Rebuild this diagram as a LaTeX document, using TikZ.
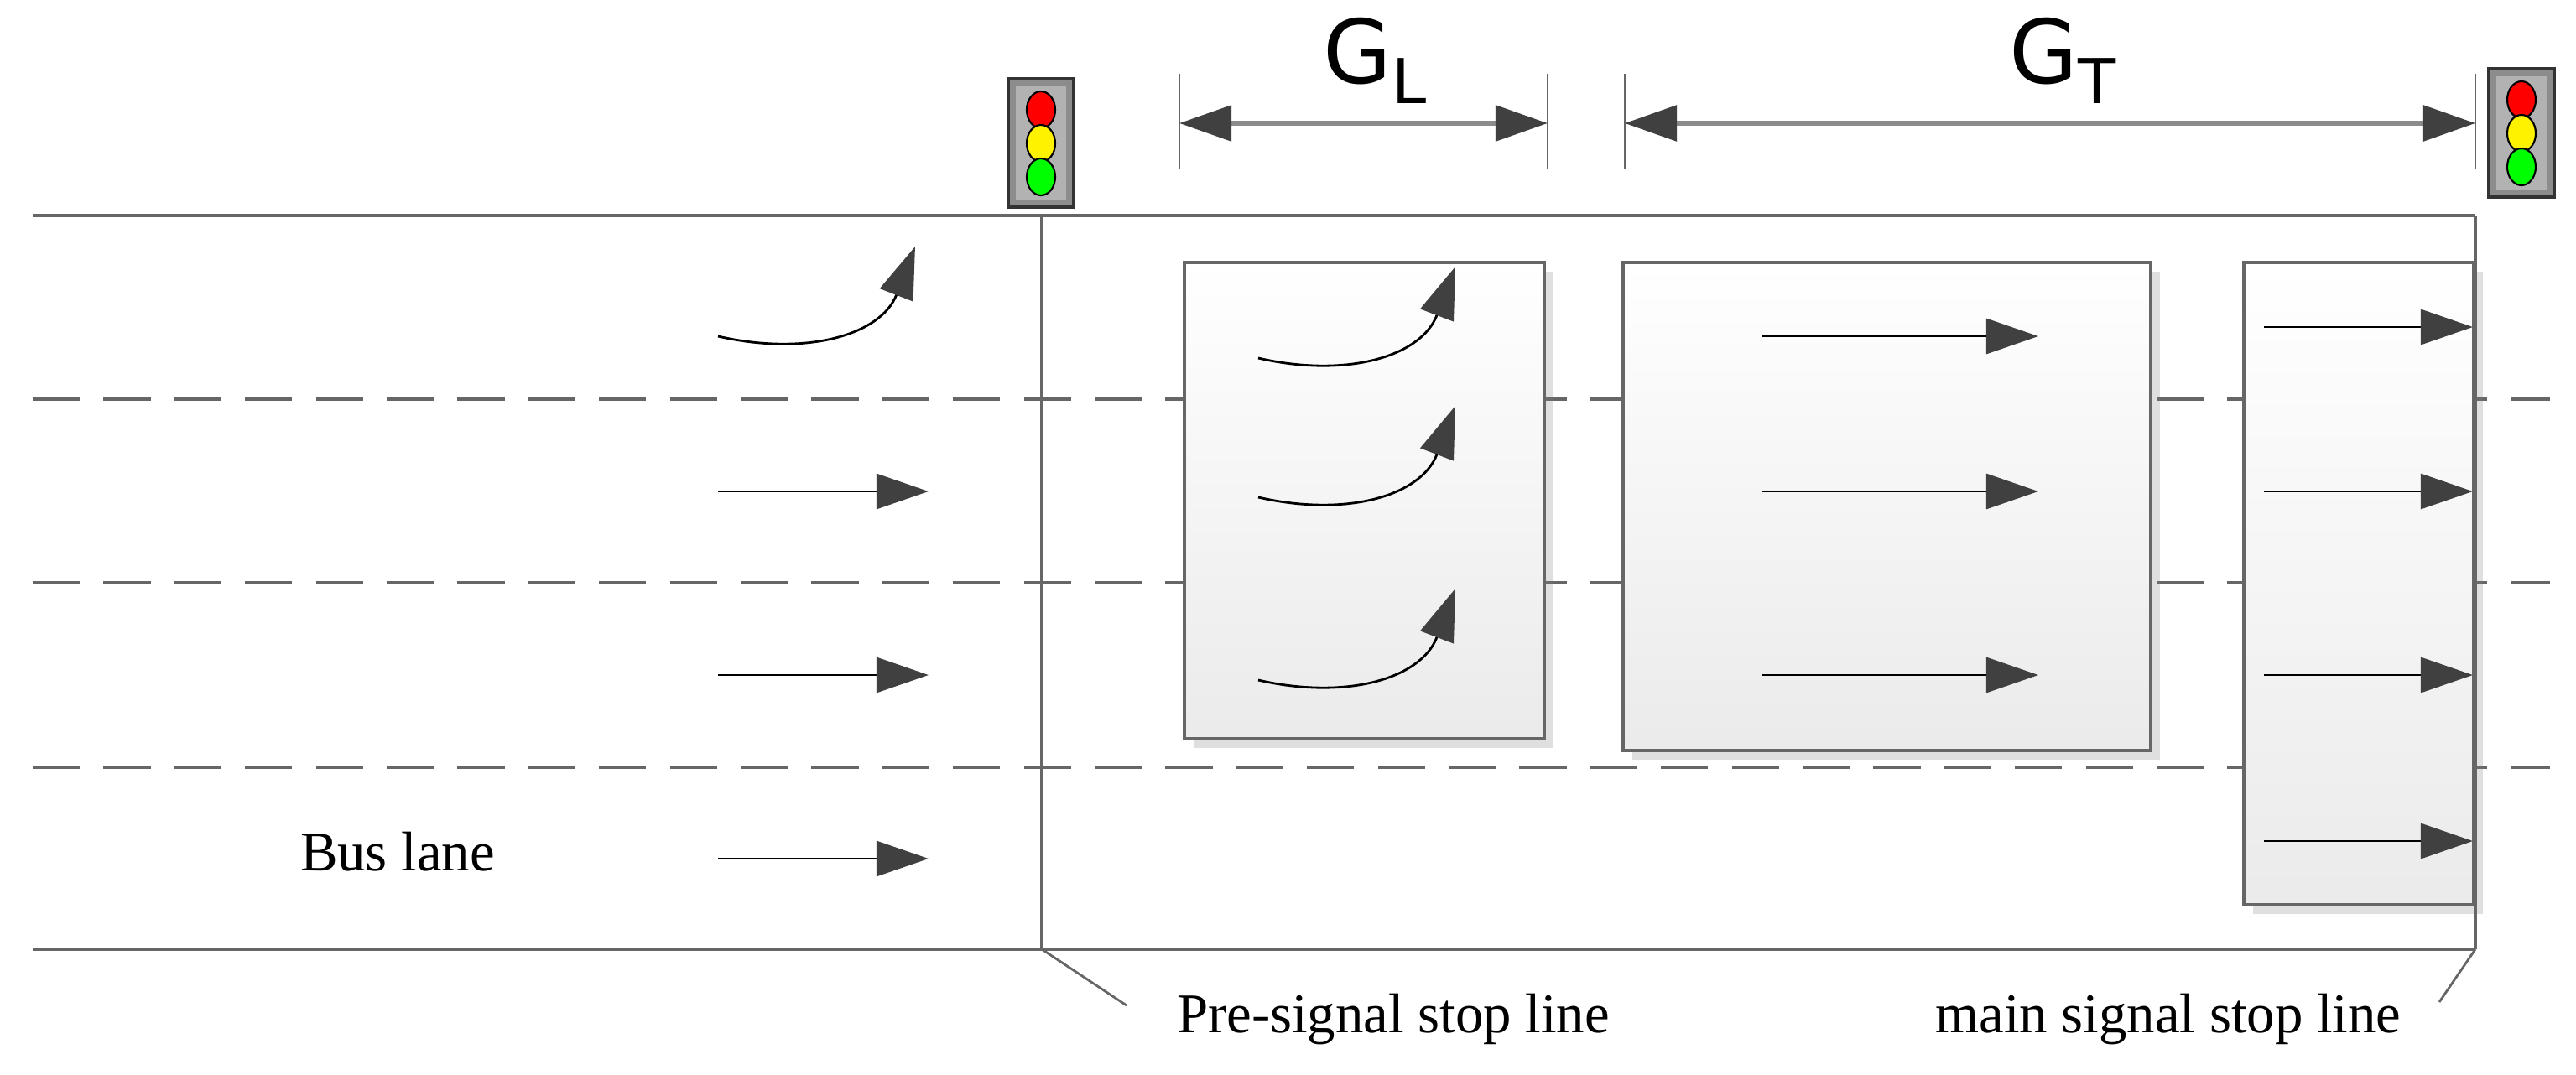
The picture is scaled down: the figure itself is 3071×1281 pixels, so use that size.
\documentclass[tikz,border=0pt]{standalone}
\usepackage{fontspec}
\setmainfont{Liberation Serif}
\newfontfamily\gfont{DejaVu Sans}
\usetikzlibrary{arrows.meta,shadows}
\begin{document}
\begin{tikzpicture}[x=0.01cm,y=-0.01cm,
  road/.style={draw=black!60,line width=1.2pt},
  lane/.style={draw=black!60,line width=1pt,dash pattern=on 16pt off 8pt},
  box/.style={draw=black!60,line width=1pt,top color=white,bottom color=black!8,drop shadow={opacity=0.25,shadow xshift=3pt,shadow yshift=-3pt}},
  arr/.style={draw=black,line width=0.8pt,-{Triangle[length=0.62cm,width=0.42cm,color=black!75]}},
  dim/.style={draw=black!45,line width=1.6pt,{Triangle[length=0.62cm,width=0.42cm,color=black!75]}-{Triangle[length=0.62cm,width=0.42cm,color=black!75]}},
  tick/.style={draw=black!60,line width=0.8pt},
  lbl/.style={font=\fontsize{19}{22}\selectfont,inner sep=0pt},
  glbl/.style={font=\gfont\fontsize{30}{34}\selectfont,inner sep=0pt}]
\useasboundingbox (0,0) rectangle (3071,1281);
% road
\draw[road] (39,257) -- (2951,257);
\draw[road] (39,1132) -- (2951,1132);
\draw[road,line width=1pt] (1242,257) -- (1242,1132);
\draw[lane] (39,476) -- (3040,476);
\draw[lane] (39,695) -- (3040,695);
\draw[lane] (39,915) -- (3040,915);
% boxes
\draw[box] (1412,313) rectangle (1841,881);
\draw[box] (1935,313) rectangle (2564,895);
\draw[box] (2675,313) rectangle (2949,1079);
\draw[road,line width=1pt] (2951,257) -- (2951,1132);
% traffic lights
\foreach \x/\y in {1202/94,2967/82}{
  \draw[draw=black!80,fill=black!45,line width=1pt] (\x,\y) rectangle ++(78,153);
  \fill[black!30] (\x+9,\y+9) rectangle ++(60,135);
  \draw[fill=red,line width=0.6pt] (\x+39,\y+37) ellipse (17 and 22);
  \draw[fill=yellow,line width=0.6pt] (\x+39,\y+77) ellipse (17 and 22);
  \draw[fill=green,line width=0.6pt] (\x+39,\y+117) ellipse (17 and 22);
}
% dimension lines
\coordinate (g1) at (1406,147); \coordinate (g2) at (1845,147);
\coordinate (g3) at (1937,147); \coordinate (g4) at (2951,147);
\draw[tick] (1406,88) -- (1406,202);
\draw[tick] (1845,88) -- (1845,202);
\draw[tick] (1937,88) -- (1937,202);
\draw[tick] (2951,88) -- (2951,202);
\draw[dim] (g1) -- (g2);
\draw[dim] (g3) -- (g4);
\node[glbl] (GL) at (1640,72) {G\textsubscript{L}};
\node[glbl] (GT) at (2460,72) {G\textsubscript{T}};
% arrows left
\foreach \y in {586,805,1024}{\draw[arr] (856,\y) -- (1107,\y);}
\draw[arr] (856,401) .. controls (960,425) and (1050,400) .. (1091,294);
% box1 curved
\foreach \y in {0,166,384}{\draw[arr] (1500,427+\y) .. controls (1604,451+\y) and (1694,426+\y) .. (1735,318+\y);}
% box2
\foreach \y in {401,586,805}{\draw[arr] (2101,\y) -- (2430,\y);}
% box3
\foreach \y in {390,586,805,1003}{\draw[arr] (2699,\y) -- (2948,\y);}
% labels
\node[lbl] (bus) at (474,1016) {Bus lane};
\node[lbl] (pre) at (1661,1216) {Pre-signal stop line};
\node[lbl] (main) at (2585,1216) {main signal stop line};
\coordinate (p1) at (1242,1132); \coordinate (p2) at (1343,1199);
\coordinate (m1) at (2951,1132); \coordinate (m2) at (2908,1195);
\draw[tick] (p1) -- (p2);
\draw[tick] (m1) -- (m2);
\end{tikzpicture}
\end{document}
